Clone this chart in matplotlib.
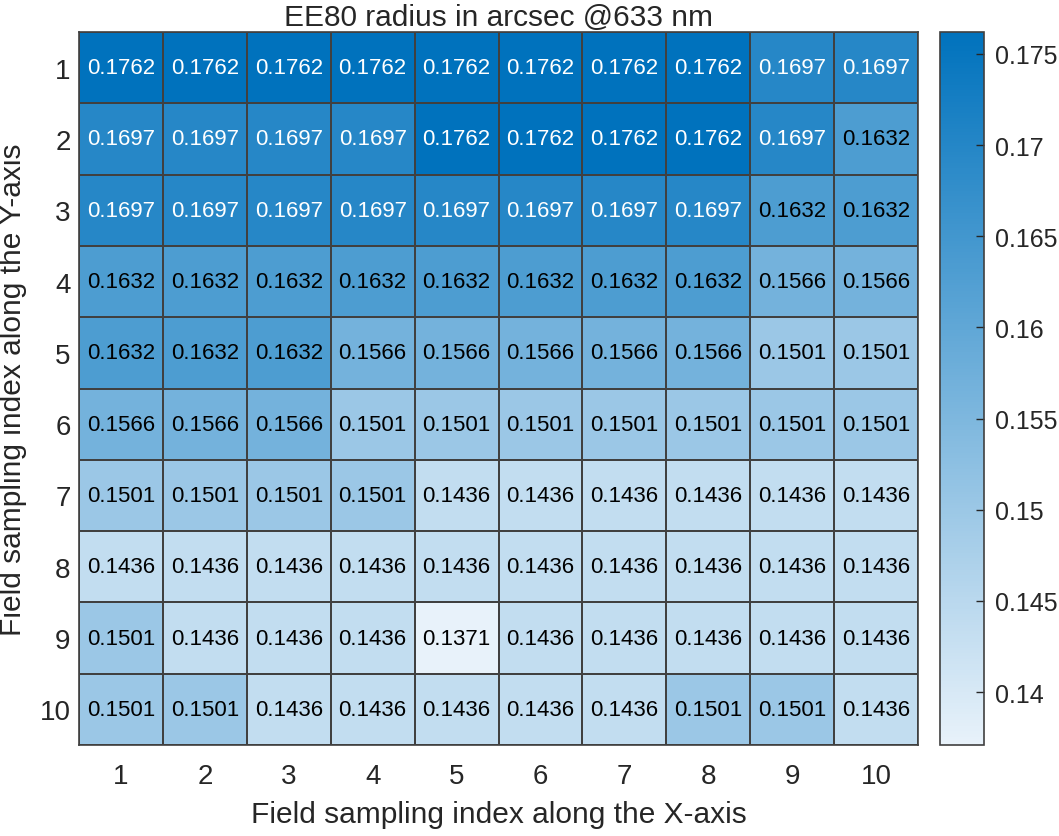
import numpy as np
import matplotlib.pyplot as plt
from matplotlib.colors import LinearSegmentedColormap

x_labels = [str(i) for i in range(1, 11)]
y_labels = [str(i) for i in range(1, 11)]

ee80 = [
    [0.1762, 0.1762, 0.1762, 0.1762, 0.1762, 0.1762, 0.1762, 0.1762, 0.1697, 0.1697],
    [0.1697, 0.1697, 0.1697, 0.1697, 0.1762, 0.1762, 0.1762, 0.1762, 0.1697, 0.1632],
    [0.1697, 0.1697, 0.1697, 0.1697, 0.1697, 0.1697, 0.1697, 0.1697, 0.1632, 0.1632],
    [0.1632, 0.1632, 0.1632, 0.1632, 0.1632, 0.1632, 0.1632, 0.1632, 0.1566, 0.1566],
    [0.1632, 0.1632, 0.1632, 0.1566, 0.1566, 0.1566, 0.1566, 0.1566, 0.1501, 0.1501],
    [0.1566, 0.1566, 0.1566, 0.1501, 0.1501, 0.1501, 0.1501, 0.1501, 0.1501, 0.1501],
    [0.1501, 0.1501, 0.1501, 0.1501, 0.1436, 0.1436, 0.1436, 0.1436, 0.1436, 0.1436],
    [0.1436, 0.1436, 0.1436, 0.1436, 0.1436, 0.1436, 0.1436, 0.1436, 0.1436, 0.1436],
    [0.1501, 0.1436, 0.1436, 0.1436, 0.1371, 0.1436, 0.1436, 0.1436, 0.1436, 0.1436],
    [0.1501, 0.1501, 0.1436, 0.1436, 0.1436, 0.1436, 0.1436, 0.1501, 0.1501, 0.1436],
]
cbar_ticks = [0.14, 0.145, 0.15, 0.155, 0.16, 0.165, 0.17, 0.175]

plt.rcParams['font.family'] = ['Liberation Sans', 'DejaVu Sans']
txt = '#262626'

data = np.array(ee80)
cmap = LinearSegmentedColormap.from_list('mblue', ['#e8f2fa', '#0072bd'])
vmin, vmax = data.min(), data.max()

fig = plt.figure(figsize=(10.59, 8.37), dpi=100)
ax = fig.add_axes([79 / 1059, 1 - 746 / 837, 839 / 1059, 713 / 837])
cax = fig.add_axes([940 / 1059, 1 - 746 / 837, 44 / 1059, 713 / 837])

mesh = ax.pcolormesh(data, cmap=cmap, vmin=vmin, vmax=vmax,
                     edgecolor='#404040', linewidth=1.2)
ax.set_xlim(0, 10)
ax.set_ylim(10, 0)
ax.set_xticks(np.arange(10) + 0.5)
ax.set_xticklabels(x_labels)
ax.set_yticks(np.arange(10) + 0.5)
ax.set_yticklabels(y_labels)
ax.tick_params(length=0, labelsize=20, colors=txt)
ax.tick_params(axis='x', pad=13)
ax.tick_params(axis='y', pad=6)
for s in ax.spines.values():
    s.set_color('#404040')
    s.set_linewidth(1.2)

for i in range(10):
    for j in range(10):
        v = data[i, j]
        c = 'white' if v > 0.165 else 'black'
        ax.text(j + 0.5, i + 0.5, '%.4f' % v, ha='center', va='center',
                fontsize=16, color=c)

ax.set_title('EE80 radius in arcsec @633 nm', fontsize=21.5, color=txt, pad=5)
ax.set_xlabel('Field sampling index along the X-axis', fontsize=21.5, color=txt, labelpad=8)
ax.set_ylabel('Field sampling index along the Y-axis', fontsize=21.5, color=txt)
ax.yaxis.set_label_coords(-52 / 839, 0.5)

cb = fig.colorbar(mesh, cax=cax)
cb.set_ticks(cbar_ticks)
cb.set_ticklabels(['%g' % t for t in cbar_ticks])
cax.tick_params(direction='in', length=6, labelsize=18, colors=txt, width=1, pad=8)
cb.outline.set_edgecolor('#404040')
cb.outline.set_linewidth(1.2)

fig.savefig('out.png', dpi=100)
